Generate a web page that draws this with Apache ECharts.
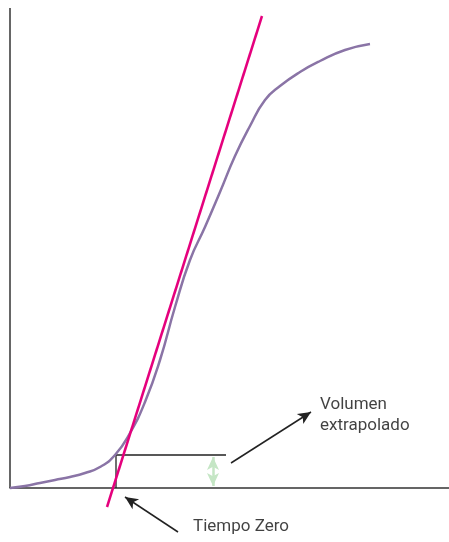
<!DOCTYPE html>
<html><head><meta charset="utf-8">
<script src="https://cdn.jsdelivr.net/npm/echarts@6/dist/echarts.min.js"></script>
<style>html,body{margin:0;padding:0;background:#fff}#c{width:449px;height:542px}</style>
</head><body><div id="c"></div>
<script>
// Purple cumulative curve [x, y]
const curveX = [0, 15, 30, 45, 60, 75, 90, 105, 120, 135, 150, 165, 180, 195, 210, 225, 240, 255, 270, 290, 310, 335, 360];
const curveY = [0, 2, 5, 8, 11, 15, 21, 33, 55, 86, 128, 181, 228, 261, 296, 332, 362, 388, 402, 416, 427, 438, 444];
// Tangent line
const tangentX = [97, 252];
const tangentY = [-19, 472];
// Extrapolated volume box
const boxX = [106, 106, 216];
const boxY = [0, 33, 33];
// Annotation labels
const labels = ["Volumen\nextrapolado", "Tiempo Zero"];
const labelX = [310, 183];
const labelY = [73, -39];
// Arrows [x1, y1, x2, y2]
const arrowVol = [221, 25, 301, 76];
const arrowZero = [168, -44, 115, -9];
const arrowGreen = [203, 2, 203, 31];

const zip = (xs, ys) => xs.map((x, i) => [x, ys[i]]);
const chart = echarts.init(document.getElementById('c'));
const font = '"Liberation Sans Narrow", "Roboto", sans-serif';
chart.setOption({
  animation: false,
  grid: {left: 10, right: 0, top: 8, bottom: 0},
  xAxis: {type: 'value', min: 0, max: 439, axisLine: {onZero: true, lineStyle: {color: '#333', width: 1.5}},
          axisTick: {show: false}, axisLabel: {show: false}, splitLine: {show: false}},
  yAxis: {type: 'value', min: -54, max: 480, axisLine: {show: false},
          axisTick: {show: false}, axisLabel: {show: false}, splitLine: {show: false}},
  series: [
    {type: 'line', data: [[0, 0], [0, 480]], symbol: 'none', lineStyle: {color: '#333', width: 1.5}, silent: true},
    {type: 'line', data: zip(boxX, boxY), symbol: 'none', lineStyle: {color: '#222', width: 1.3}},
    {type: 'line', data: zip(curveX, curveY), smooth: 0.5, symbol: 'none', lineStyle: {color: '#8a74a6', width: 2.5}},
    {type: 'line', data: zip(tangentX, tangentY), symbol: 'none', clip: false, lineStyle: {color: '#e5007d', width: 2.5}},
    {type: 'scatter', data: zip(labelX, labelY).map((p, i) => ({value: p, label: {formatter: labels[i]}})),
     symbolSize: 0, clip: false,
     label: {show: true, position: 'right', distance: 0, color: '#111', fontFamily: font, fontSize: 17, lineHeight: 21, align: 'left'},
     markLine: {
       silent: true, symbol: ['none', 'arrow'], symbolSize: [9, 13], label: {show: false},
       lineStyle: {color: '#222', width: 1.5, type: 'solid'},
       data: [
         [{coord: [arrowVol[0], arrowVol[1]]}, {coord: [arrowVol[2], arrowVol[3]]}],
         [{coord: [arrowZero[0], arrowZero[1]]}, {coord: [arrowZero[2], arrowZero[3]]}],
         [{coord: [arrowGreen[0], arrowGreen[1]], symbol: 'arrow', lineStyle: {color: '#c5e6c5', width: 2.5}},
          {coord: [arrowGreen[2], arrowGreen[3]], symbol: 'arrow'}]
       ]
     }}
  ]
});
</script></body></html>
